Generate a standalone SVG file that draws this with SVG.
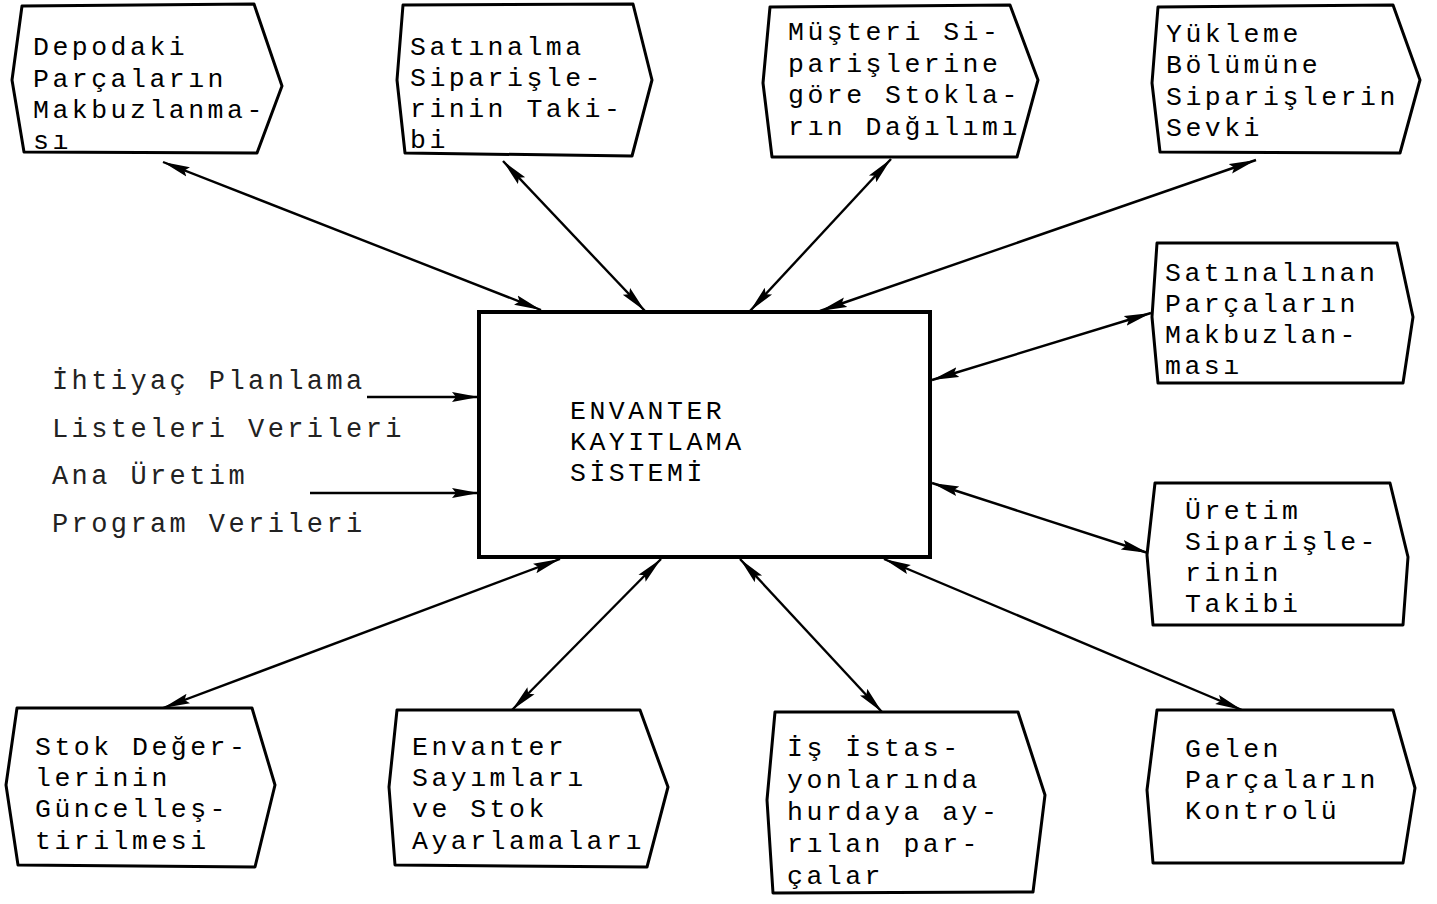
<svg xmlns="http://www.w3.org/2000/svg" width="1437" height="904" viewBox="0 0 1437 904">
  <style>
    .box { fill: #fff; stroke: #000; stroke-width: 3; stroke-linejoin: round; }
    .core { fill: #fff; stroke: #000; stroke-width: 4; }
    .lbl { font-family: "Liberation Mono", "DejaVu Sans Mono", monospace; font-size: 26.5px; letter-spacing: 3.5px; fill: #000; }
    .lite { font-family: "Liberation Mono", "DejaVu Sans Mono", monospace; font-size: 27px; letter-spacing: 3.4px; fill: #222; }
    .link { stroke: #000; stroke-width: 2.4; fill: none; }
  </style>
  <defs>
    <marker id="tip" markerUnits="userSpaceOnUse" markerWidth="30" markerHeight="14" refX="27" refY="6" orient="auto-start-reverse">
      <path d="M0,1 L27,6 L0,11 L4,6 Z" fill="#000"/>
    </marker>
  </defs>
  <rect width="1437" height="904" fill="#fff"/>

  <!-- connectors -->
  <g id="connectors">
    <line class="link" x1="163" y1="162" x2="541" y2="310" marker-start="url(#tip)" marker-end="url(#tip)"/>
    <line class="link" x1="503" y1="161" x2="645" y2="311" marker-start="url(#tip)" marker-end="url(#tip)"/>
    <line class="link" x1="891" y1="159" x2="750" y2="311" marker-start="url(#tip)" marker-end="url(#tip)"/>
    <line class="link" x1="1256" y1="160" x2="820" y2="311" marker-start="url(#tip)" marker-end="url(#tip)"/>
    <line class="link" x1="1151" y1="313" x2="932" y2="380" marker-start="url(#tip)" marker-end="url(#tip)"/>
    <line class="link" x1="932" y1="483" x2="1148" y2="553" marker-start="url(#tip)" marker-end="url(#tip)"/>
    <line class="link" x1="163" y1="708" x2="560" y2="559" marker-start="url(#tip)" marker-end="url(#tip)"/>
    <line class="link" x1="512" y1="710" x2="661" y2="559" marker-start="url(#tip)" marker-end="url(#tip)"/>
    <line class="link" x1="882" y1="712" x2="740" y2="559" marker-start="url(#tip)" marker-end="url(#tip)"/>
    <line class="link" x1="1242" y1="710" x2="884" y2="559" marker-start="url(#tip)" marker-end="url(#tip)"/>
    <line class="link" x1="367" y1="397" x2="479" y2="397" marker-end="url(#tip)"/>
    <line class="link" x1="310" y1="493" x2="479" y2="493" marker-end="url(#tip)"/>
  </g>

  <!-- central system box -->
  <g id="envanter-kayitlama">
    <rect class="core" x="479" y="312" width="451" height="245"/>
    <text class="lbl" x="570" y="419">ENVANTER</text>
    <text class="lbl" x="570" y="450">KAYITLAMA</text>
    <text class="lbl" x="570" y="481">SİSTEMİ</text>
  </g>

  <!-- input data labels -->
  <g id="girdiler">
    <text class="lite" x="52" y="389">İhtiyaç Planlama</text>
    <text class="lite" x="52" y="437">Listeleri Verileri</text>
    <text class="lite" x="52" y="484">Ana Üretim</text>
    <text class="lite" x="52" y="532">Program Verileri</text>
  </g>

  <g id="depodaki">
    <polygon class="box" points="22,6 254,4 282,86 257,153 24,152 12,80"/>
    <text class="lbl" x="33" y="55">Depodaki</text>
    <text class="lbl" x="33" y="87">Parçaların</text>
    <text class="lbl" x="33" y="118">Makbuzlanma-</text>
    <text class="lbl" x="33" y="149">sı</text>
  </g>

  <g id="satinalma">
    <polygon class="box" points="403,5 633,4 652,80 632,156 405,153 397,80"/>
    <text class="lbl" x="410" y="55">Satınalma</text>
    <text class="lbl" x="410" y="86">Siparişle-</text>
    <text class="lbl" x="410" y="117">rinin Taki-</text>
    <text class="lbl" x="410" y="148">bi</text>
  </g>

  <g id="musteri">
    <polygon class="box" points="770,7 1010,5 1038,80 1017,157 772,157 763,83"/>
    <text class="lbl" x="788" y="40">Müşteri Si-</text>
    <text class="lbl" x="788" y="72">parişlerine</text>
    <text class="lbl" x="788" y="103">göre Stokla-</text>
    <text class="lbl" x="788" y="135">rın Dağılımı</text>
  </g>

  <g id="yukleme">
    <polygon class="box" points="1158,7 1393,5 1420,80 1400,153 1160,152 1152,83"/>
    <text class="lbl" x="1166" y="42">Yükleme</text>
    <text class="lbl" x="1166" y="73">Bölümüne</text>
    <text class="lbl" x="1166" y="105">Siparişlerin</text>
    <text class="lbl" x="1166" y="136">Sevki</text>
  </g>

  <g id="satinalinan">
    <polygon class="box" points="1157,243 1397,243 1413,317 1403,383 1158,383 1152,317"/>
    <text class="lbl" x="1165" y="281">Satınalınan</text>
    <text class="lbl" x="1165" y="312">Parçaların</text>
    <text class="lbl" x="1165" y="343">Makbuzlan-</text>
    <text class="lbl" x="1165" y="374">ması</text>
  </g>

  <g id="uretim">
    <polygon class="box" points="1155,483 1390,483 1408,557 1403,625 1153,625 1147,555"/>
    <text class="lbl" x="1185" y="519">Üretim</text>
    <text class="lbl" x="1185" y="550">Siparişle-</text>
    <text class="lbl" x="1185" y="581">rinin</text>
    <text class="lbl" x="1185" y="612">Takibi</text>
  </g>

  <g id="stok">
    <polygon class="box" points="17,708 252,708 275,785 255,867 18,865 6,785"/>
    <text class="lbl" x="35" y="755">Stok Değer-</text>
    <text class="lbl" x="35" y="786">lerinin</text>
    <text class="lbl" x="35" y="817">Güncelleş-</text>
    <text class="lbl" x="35" y="849">tirilmesi</text>
  </g>

  <g id="sayim">
    <polygon class="box" points="397,710 640,710 668,787 647,867 395,865 389,787"/>
    <text class="lbl" x="412" y="755">Envanter</text>
    <text class="lbl" x="412" y="786">Sayımları</text>
    <text class="lbl" x="412" y="817">ve Stok</text>
    <text class="lbl" x="412" y="849">Ayarlamaları</text>
  </g>

  <g id="hurda">
    <polygon class="box" points="775,712 1018,712 1045,795 1033,892 773,893 767,800"/>
    <text class="lbl" x="787" y="756">İş İstas-</text>
    <text class="lbl" x="787" y="788">yonlarında</text>
    <text class="lbl" x="787" y="820">hurdaya ay-</text>
    <text class="lbl" x="787" y="852">rılan par-</text>
    <text class="lbl" x="787" y="884">çalar</text>
  </g>

  <g id="gelen">
    <polygon class="box" points="1157,710 1393,710 1415,788 1403,863 1153,863 1147,790"/>
    <text class="lbl" x="1185" y="757">Gelen</text>
    <text class="lbl" x="1185" y="788">Parçaların</text>
    <text class="lbl" x="1185" y="819">Kontrolü</text>
  </g>
</svg>
